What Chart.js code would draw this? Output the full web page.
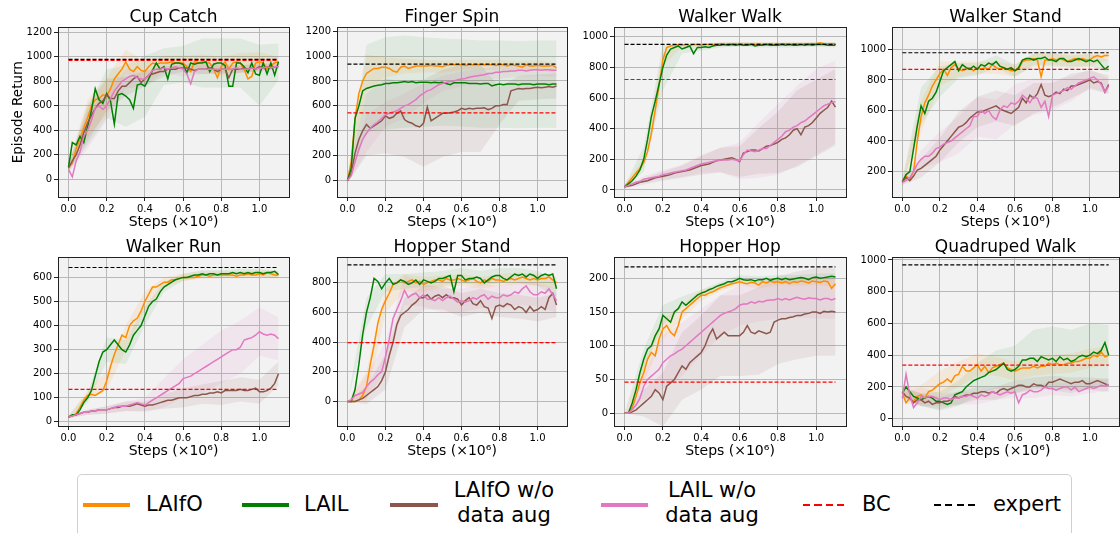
<!DOCTYPE html>
<html>
<head>
<meta charset="utf-8">
<script src="https://cdn.jsdelivr.net/npm/chart.js@4.4.1/dist/chart.umd.min.js"></script>
<style>
  body { margin: 0; width: 1120px; height: 533px; overflow: hidden; background: #fff; position: relative; font-family: 'DejaVu Sans', sans-serif; }
  canvas { position: absolute; }
  #legendBox { position: absolute; left: 77px; top: 474px; width: 995px; height: 90px; border: 1px solid #d0d0d0; border-radius: 5px; box-sizing: border-box; background: #fff; }
  .sw { position: absolute; height: 4px; top: 503px; }
  .dash { position: absolute; height: 2px; top: 504px; }
  .lt { position: absolute; font-size: 21px; line-height: 25px; color: #000; white-space: nowrap; }
  .two { text-align: center; width: 130px; top: 478px; }
</style>
</head>
<body>
<div id="legendBox"></div>
<span class="sw" style="left:83px;width:47px;background:#ff8c00"></span>
<span class="lt" style="left:146px;top:492px">LAIfO</span>
<span class="sw" style="left:242px;width:47px;background:#008000"></span>
<span class="lt" style="left:304px;top:492px">LAIL</span>
<span class="sw" style="left:390px;width:48px;background:#8c564b"></span>
<span class="lt two" style="left:439px">LAIfO w/o<br>data aug</span>
<span class="sw" style="left:601px;width:47px;background:#e377c2"></span>
<span class="lt two" style="left:647px">LAIL w/o<br>data aug</span>
<span class="dash" style="left:803px;width:42px;background:repeating-linear-gradient(90deg,#ff0000 0 7px,transparent 7px 11.5px)"></span>
<span class="lt" style="left:862px;top:492px">BC</span>
<span class="dash" style="left:934px;width:42px;background:repeating-linear-gradient(90deg,#000 0 7px,transparent 7px 11.5px)"></span>
<span class="lt" style="left:993px;top:492px">expert</span>

<script>
const TASKS = ['Cup Catch', 'Finger Spin', 'Walker Walk', 'Walker Stand', 'Walker Run', 'Hopper Stand', 'Hopper Hop', 'Quadruped Walk'];
const BC = [972, 544, 721, 869, 135, 397, 46, 337];
const EXPERT = [980, 935, 950, 978, 641, 921, 217, 969];
const Y_MIN = [-145, -132, -46, 33, -17, -166, -19, -46];
const Y_MAX = [1241, 1230, 1061, 1144, 683, 972, 231, 1016];
const Y_TICKS = [
  [0, 200, 400, 600, 800, 1000, 1200],
  [0, 200, 400, 600, 800, 1000, 1200],
  [0, 200, 400, 600, 800, 1000],
  [200, 400, 600, 800, 1000],
  [0, 100, 200, 300, 400, 500, 600],
  [0, 200, 400, 600, 800],
  [0, 50, 100, 150, 200],
  [0, 200, 400, 600, 800, 1000]
];
const X_TICKS = [0, 0.2, 0.4, 0.6, 0.8, 1.0];

// steps (x10^6): one value every 0.02, bands every 0.1
const STEPS = Array.from({ length: 56 }, (_, i) => Math.round(i * 2) / 100);
const BAND_X = [0, 0.1, 0.2, 0.3, 0.4, 0.5, 0.6, 0.7, 0.8, 0.9, 1.0, 1.1];

const LAIFO = [
  [100, 130, 250, 330, 420, 500, 600, 650, 660, 690, 680, 740, 820, 860,
   900, 960, 900, 880, 920, 890, 880, 920, 950, 940, 950, 950, 950, 960,
   950, 950, 950, 920, 880, 960, 950, 960, 950, 950, 900, 830, 920, 960,
   900, 950, 960, 950, 900, 820, 840, 950, 960, 950, 900, 930, 950, 960],
  [0, 150, 500, 700, 800, 860, 880, 900, 900, 910, 910, 900, 880, 870,
   910, 920, 900, 910, 920, 920, 920, 920, 925, 920, 920, 915, 925, 930,
   930, 930, 930, 925, 930, 930, 930, 930, 930, 930, 930, 925, 930, 930,
   920, 930, 925, 920, 910, 930, 920, 920, 925, 920, 920, 920, 925, 905],
  [20, 50, 80, 110, 140, 180, 250, 370, 520, 680, 850, 930, 940, 945,
   950, 945, 950, 940, 950, 950, 945, 950, 950, 950, 950, 955, 950, 950,
   955, 950, 955, 950, 950, 955, 950, 955, 950, 955, 955, 950, 955, 955,
   955, 950, 955, 955, 950, 955, 955, 955, 955, 960, 955, 955, 955, 955],
  [130, 170, 150, 200, 400, 560, 650, 700, 760, 800, 840, 870, 830, 880,
   900, 870, 860, 870, 880, 860, 880, 870, 880, 870, 900, 880, 870, 880,
   870, 860, 860, 870, 920, 930, 930, 940, 930, 820, 930, 930, 940, 930,
   940, 930, 920, 930, 940, 930, 940, 930, 930, 950, 960, 950, 960, 960],
  [20, 25, 35, 60, 90, 110, 115, 110, 120, 130, 170, 230, 280, 320,
   360, 350, 400, 420, 430, 460, 500, 530, 560, 560, 570, 580, 580, 590,
   590, 595, 600, 600, 600, 600, 605, 610, 610, 605, 610, 610, 610, 610,
   610, 610, 605, 610, 610, 615, 610, 610, 615, 610, 620, 615, 610, 610],
  [0, 0, 0, 10, 40, 100, 250, 380, 530, 620, 680, 730, 790, 800,
   820, 800, 810, 820, 800, 810, 790, 800, 810, 820, 820, 810, 830, 820,
   820, 830, 820, 810, 820, 830, 810, 800, 820, 810, 830, 820, 820, 810,
   820, 830, 820, 830, 840, 830, 820, 830, 820, 830, 830, 840, 820, 800],
  [0, 0, 8, 25, 45, 60, 80, 90, 85, 110, 125, 130, 120, 115,
   130, 150, 155, 160, 165, 170, 175, 175, 178, 180, 183, 186, 188, 190,
   192, 193, 195, 193, 192, 194, 193, 190, 195, 193, 196, 194, 195, 193,
   195, 192, 195, 194, 196, 195, 193, 196, 195, 194, 196, 195, 185, 192],
  [160, 100, 130, 110, 140, 150, 130, 170, 180, 200, 220, 230, 250, 230,
   270, 280, 330, 300, 300, 320, 340, 300, 330, 290, 320, 330, 340, 350,
   320, 310, 300, 310, 320, 320, 320, 330, 320, 330, 330, 350, 340, 350,
   340, 340, 350, 350, 360, 360, 370, 380, 380, 400, 390, 420, 390, 400]
];

const LAIL = [
  [100, 300, 280, 350, 300, 430, 560, 740, 650, 620, 700, 640, 450, 690,
   700, 680, 650, 580, 770, 780, 760, 820, 890, 950, 900, 920, 820, 940,
   950, 950, 940, 870, 950, 940, 950, 950, 960, 880, 940, 950, 950, 930,
   760, 760, 950, 950, 920, 870, 950, 860, 850, 950, 860, 950, 850, 960],
  [0, 100, 500, 600, 720, 740, 750, 760, 765, 770, 780, 780, 785, 785,
   790, 795, 790, 795, 785, 790, 790, 790, 785, 790, 785, 790, 780, 770,
   785, 785, 785, 785, 780, 780, 780, 775, 780, 780, 760, 770, 775, 770,
   775, 775, 775, 770, 775, 775, 775, 770, 775, 775, 775, 770, 775, 775],
  [20, 40, 60, 90, 130, 200, 330, 480, 580, 690, 800, 880, 920, 930,
   940, 920, 930, 940, 890, 930, 930, 935, 930, 940, 945, 945, 950, 945,
   950, 945, 950, 945, 945, 950, 940, 945, 945, 950, 945, 945, 945, 950,
   945, 950, 945, 945, 950, 945, 950, 945, 950, 950, 950, 945, 945, 945],
  [130, 180, 200, 350, 500, 630, 580, 660, 680, 720, 790, 860, 880, 900,
   920, 860, 900, 880, 870, 890, 870, 900, 890, 910, 900, 920, 890, 880,
   870, 880, 860, 880, 930, 940, 940, 930, 940, 940, 950, 930, 930, 920,
   940, 940, 920, 920, 930, 940, 930, 920, 930, 920, 930, 900, 870, 890],
  [20, 30, 30, 50, 80, 100, 130, 190, 250, 290, 300, 320, 340, 320,
   300, 290, 320, 360, 380, 400, 440, 480, 500, 510, 540, 560, 570, 580,
   590, 595, 600, 600, 605, 610, 610, 615, 610, 615, 615, 610, 615, 615,
   615, 620, 615, 620, 615, 620, 615, 620, 620, 615, 620, 620, 625, 612],
  [0, 0, 80, 250, 450, 600, 700, 830, 810, 760, 800, 830, 790, 800,
   820, 810, 790, 800, 820, 790, 820, 810, 800, 810, 830, 830, 840, 850,
   740, 850, 850, 820, 830, 830, 840, 830, 800, 820, 840, 850, 850, 830,
   820, 840, 860, 850, 860, 840, 860, 850, 830, 850, 860, 850, 860, 760],
  [0, 0, 15, 35, 60, 80, 95, 100, 115, 125, 145, 140, 135, 150,
   155, 165, 160, 165, 170, 175, 178, 180, 183, 185, 188, 190, 192, 195,
   195, 197, 200, 198, 197, 198, 196, 198, 198, 200, 197, 199, 200, 198,
   200, 198, 199, 200, 201, 200, 198, 201, 202, 200, 201, 202, 203, 202],
  [160, 200, 170, 140, 130, 120, 130, 140, 130, 110, 110, 100, 90, 100,
   150, 160, 170, 200, 220, 240, 250, 260, 270, 290, 300, 310, 330, 350,
   310, 300, 310, 330, 370, 370, 380, 380, 360, 390, 380, 370, 380, 360,
   390, 370, 380, 360, 370, 390, 400, 390, 400, 420, 410, 430, 480, 400]
];

const LAIFO_NOAUG = [
  [90, 150, 200, 280, 380, 460, 520, 580, 620, 640, 690, 660, 660, 720,
   760, 760, 790, 820, 840, 790, 820, 850, 860, 870, 880, 880, 900, 900,
   900, 910, 910, 910, 900, 890, 900, 900, 900, 910, 900, 880, 900, 900,
   830, 900, 900, 900, 910, 900, 910, 900, 920, 910, 920, 910, 920, 920],
  [0, 60, 220, 330, 400, 450, 420, 440, 460, 480, 520, 500, 510, 540,
   560, 490, 470, 460, 440, 430, 460, 590, 480, 500, 520, 540, 540, 545,
   550, 560, 580, 570, 580, 575, 580, 580, 585, 570, 580, 600, 600, 610,
   610, 720, 730, 740, 735, 740, 740, 745, 750, 745, 750, 755, 750, 760],
  [20, 25, 30, 40, 50, 55, 60, 70, 80, 85, 90, 95, 100, 110,
   115, 120, 125, 130, 140, 150, 160, 165, 170, 180, 190, 195, 200, 205,
   210, 200, 185, 240, 250, 260, 260, 255, 270, 285, 290, 300, 310, 330,
   340, 360, 390, 400, 360, 410, 420, 440, 470, 500, 520, 540, 580, 540],
  [130, 160, 140, 170, 210, 220, 240, 260, 280, 300, 340, 370, 400, 430,
   460, 490, 500, 520, 550, 570, 590, 590, 600, 610, 620, 630, 610, 600,
   590, 580, 600, 620, 680, 650, 700, 680, 710, 770, 700, 690, 700, 720,
   710, 740, 730, 760, 760, 770, 780, 790, 800, 780, 790, 780, 720, 770],
  [20, 25, 30, 35, 40, 40, 45, 45, 50, 50, 50, 55, 60, 60,
   65, 65, 65, 70, 75, 70, 65, 70, 70, 75, 80, 85, 90, 90,
   95, 100, 100, 100, 105, 110, 110, 115, 115, 120, 120, 125, 120, 130,
   130, 130, 130, 135, 130, 130, 135, 140, 125, 125, 130, 140, 160, 200],
  [0, 0, 0, 10, 20, 40, 60, 80, 100, 140, 200, 310, 400, 520,
   580, 600, 620, 650, 670, 700, 700, 720, 690, 710, 720, 700, 720, 700,
   700, 690, 650, 680, 700, 660, 650, 680, 640, 630, 560, 640, 650, 640,
   660, 650, 620, 640, 630, 600, 640, 610, 620, 640, 620, 700, 730, 650],
  [0, 0, 2, 5, 10, 15, 20, 25, 35, 30, 20, 40, 45, 50,
   60, 70, 65, 75, 80, 85, 90, 100, 115, 125, 110, 115, 120, 115,
   115, 115, 115, 120, 130, 120, 118, 122, 120, 118, 120, 135, 138, 140,
   140, 142, 143, 145, 145, 147, 148, 150, 150, 148, 151, 150, 151, 150],
  [170, 140, 130, 100, 120, 120, 100, 110, 90, 100, 100, 110, 110, 120,
   140, 130, 140, 150, 150, 160, 160, 170, 170, 160, 170, 160, 180, 190,
   180, 190, 200, 210, 210, 200, 200, 220, 210, 210, 200, 230, 230, 240,
   250, 240, 230, 220, 230, 230, 240, 220, 220, 230, 240, 230, 220, 210]
];

const LAIL_NOAUG = [
  [80, 20, 150, 220, 350, 400, 480, 580, 600, 570, 600, 660, 720, 760,
   800, 820, 840, 850, 830, 820, 820, 850, 890, 900, 900, 910, 900, 910,
   920, 910, 900, 860, 780, 880, 900, 900, 900, 900, 900, 900, 900, 900,
   900, 900, 910, 900, 900, 900, 910, 900, 910, 910, 920, 910, 920, 920],
  [0, 40, 150, 250, 330, 380, 420, 450, 470, 500, 530, 540, 550, 560,
   580, 600, 610, 630, 650, 680, 700, 720, 730, 750, 770, 780, 790, 795,
   800, 810, 815, 820, 830, 835, 840, 845, 850, 860, 860, 870, 870, 875,
   875, 880, 880, 885, 885, 880, 885, 890, 890, 885, 890, 890, 885, 885],
  [20, 30, 40, 50, 55, 70, 75, 80, 85, 90, 100, 105, 110, 115,
   120, 125, 130, 140, 150, 160, 170, 175, 180, 185, 190, 195, 195, 195,
   200, 195, 190, 230, 260, 255, 250, 260, 270, 270, 290, 310, 330, 350,
   380, 390, 410, 420, 440, 450, 470, 490, 510, 530, 550, 560, 570, 575],
  [130, 140, 160, 200, 250, 280, 300, 300, 320, 350, 360, 380, 390, 400,
   420, 440, 460, 480, 500, 560, 560, 600, 580, 600, 560, 540, 600, 630,
   620, 650, 640, 660, 700, 680, 650, 690, 680, 620, 660, 560, 700, 710,
   720, 730, 750, 740, 760, 780, 790, 800, 810, 820, 800, 770, 720, 760],
  [20, 25, 30, 35, 40, 40, 45, 45, 50, 50, 50, 55, 60, 65,
   65, 65, 70, 75, 80, 75, 70, 80, 90, 100, 110, 120, 130, 140,
   150, 160, 180, 185, 190, 200, 210, 220, 230, 240, 250, 260, 270, 280,
   290, 300, 300, 310, 340, 345, 350, 360, 375, 365, 360, 365, 360, 345],
  [0, 10, 40, 50, 60, 100, 130, 150, 180, 200, 300, 420, 560, 620,
   680, 750, 700, 720, 730, 700, 720, 690, 690, 680, 700, 680, 700, 710,
   690, 670, 680, 670, 680, 700, 690, 710, 720, 690, 710, 700, 700, 720,
   710, 720, 740, 730, 760, 780, 740, 720, 720, 740, 730, 760, 720, 680],
  [0, 0, 5, 12, 22, 40, 50, 55, 60, 65, 75, 80, 85, 88,
   92, 95, 100, 105, 110, 115, 120, 125, 130, 135, 140, 145, 148, 150,
   152, 155, 160, 162, 162, 165, 163, 166, 165, 167, 168, 168, 170, 168,
   170, 168, 170, 172, 170, 169, 171, 170, 170, 168, 170, 170, 168, 170],
  [130, 280, 150, 70, 100, 140, 130, 140, 140, 130, 120, 130, 130, 120,
   130, 130, 140, 140, 150, 140, 130, 150, 140, 150, 170, 160, 150, 160,
   170, 160, 170, 100, 150, 160, 180, 170, 170, 180, 200, 190, 190, 180,
   190, 200, 200, 180, 200, 170, 180, 190, 200, 190, 200, 210, 205, 215]
];

// half width of the shaded band, read at BAND_X
const LAIFO_SPREAD = [
  [30, 150, 150, 100, 80, 60, 60, 60, 80, 80, 80, 40],
  [20, 150, 80, 60, 50, 50, 40, 40, 40, 40, 40, 40],
  [10, 30, 40, 10, 10, 10, 10, 10, 10, 10, 10, 10],
  [20, 100, 80, 50, 40, 40, 40, 40, 40, 40, 40, 30],
  [5, 20, 40, 50, 40, 20, 15, 15, 15, 15, 15, 15],
  [0, 100, 80, 60, 50, 40, 40, 40, 40, 40, 40, 40],
  [0, 15, 15, 10, 8, 5, 5, 5, 5, 5, 5, 5],
  [30, 60, 80, 80, 70, 60, 60, 60, 60, 60, 60, 60]
];
const LAIL_SPREAD = [
  [30, 150, 200, 250, 250, 150, 150, 200, 200, 200, 250, 150],
  [20, 350, 370, 370, 360, 350, 350, 350, 350, 350, 350, 350],
  [10, 80, 150, 30, 20, 15, 15, 15, 15, 15, 15, 15],
  [20, 120, 100, 50, 40, 40, 40, 40, 40, 40, 40, 40],
  [5, 20, 50, 50, 40, 20, 15, 15, 15, 15, 15, 15],
  [0, 100, 60, 50, 50, 50, 50, 50, 50, 50, 50, 60],
  [0, 15, 15, 8, 5, 5, 5, 5, 5, 5, 5, 5],
  [30, 40, 60, 80, 100, 120, 150, 180, 200, 200, 200, 190]
];
const LAIFO_NOAUG_SPREAD = [
  [30, 150, 130, 80, 60, 40, 30, 40, 40, 30, 30, 20],
  [20, 250, 300, 300, 350, 350, 350, 350, 150, 100, 100, 100],
  [10, 20, 30, 40, 60, 80, 100, 150, 200, 250, 250, 250],
  [20, 60, 80, 100, 100, 100, 100, 100, 80, 80, 60, 60],
  [5, 10, 15, 20, 20, 30, 40, 40, 50, 50, 50, 50],
  [0, 60, 120, 100, 80, 80, 80, 80, 80, 80, 80, 80],
  [0, 20, 40, 50, 55, 60, 60, 65, 65, 65, 65, 65],
  [30, 40, 40, 40, 40, 40, 40, 40, 40, 40, 40, 40]
];
const LAIL_NOAUG_SPREAD = [
  [30, 150, 120, 80, 60, 40, 60, 40, 30, 30, 30, 20],
  [20, 150, 100, 100, 80, 60, 60, 50, 50, 50, 50, 50],
  [10, 20, 30, 40, 60, 80, 120, 180, 230, 260, 280, 270],
  [20, 60, 100, 120, 130, 130, 130, 120, 100, 80, 60, 50],
  [5, 10, 15, 20, 30, 60, 80, 100, 110, 110, 100, 90],
  [0, 80, 100, 100, 80, 80, 80, 80, 80, 80, 80, 80],
  [0, 20, 40, 40, 35, 30, 30, 30, 30, 30, 30, 30],
  [30, 60, 40, 40, 40, 40, 40, 40, 40, 40, 40, 40]
];

const METHODS = [
  { values: LAIFO, spread: LAIFO_SPREAD, color: '#ff8c00', band: 'rgba(255,140,0,0.10)' },
  { values: LAIL, spread: LAIL_SPREAD, color: '#008000', band: 'rgba(0,128,0,0.08)' },
  { values: LAIFO_NOAUG, spread: LAIFO_NOAUG_SPREAD, color: '#8c564b', band: 'rgba(140,86,75,0.10)' },
  { values: LAIL_NOAUG, spread: LAIL_NOAUG_SPREAD, color: '#e377c2', band: 'rgba(227,119,194,0.10)' }
];

const PLOT_LEFT = [58, 337, 614, 892];
const PLOT_RIGHT = [289, 567, 846, 1119];
const ROW_TOP = [0, 230];
const ROW_H = [232, 231];
const Y_AXIS_W = 56;

Chart.defaults.font.family = "'DejaVu Sans', sans-serif";
Chart.defaults.color = '#000';

// grey plot background and a black frame, like matplotlib axes
const axesBox = {
  id: 'axesBox',
  beforeDraw(chart) {
    const a = chart.chartArea;
    chart.ctx.save();
    chart.ctx.fillStyle = '#f2f2f2';
    chart.ctx.fillRect(a.left, a.top, a.right - a.left, a.bottom - a.top);
    chart.ctx.restore();
  },
  afterDraw(chart) {
    const a = chart.chartArea;
    chart.ctx.save();
    chart.ctx.strokeStyle = '#222';
    chart.ctx.lineWidth = 1;
    chart.ctx.strokeRect(Math.round(a.left) + 0.5, Math.round(a.top) + 0.5,
      Math.round(a.right - a.left), Math.round(a.bottom - a.top));
    chart.ctx.restore();
  }
};

function bandData(values, spread, sign) {
  return BAND_X.map((x, j) => ({ x: x, y: values[j * 5] + sign * spread[j] }));
}

function lineData(values) {
  return values.map((v, i) => ({ x: STEPS[i], y: v }));
}

function renderTask(k) {
  const col = k % 4, row = Math.floor(k / 4);
  const canvas = document.createElement('canvas');
  const w = PLOT_RIGHT[col] - PLOT_LEFT[col] + Y_AXIS_W + 3;
  const h = ROW_H[row];
  canvas.width = w;
  canvas.height = h;
  canvas.style.width = w + 'px';
  canvas.style.height = h + 'px';
  canvas.style.left = (PLOT_LEFT[col] - Y_AXIS_W) + 'px';
  canvas.style.top = ROW_TOP[row] + 'px';
  document.body.appendChild(canvas);

  const datasets = [];
  METHODS.forEach(m => {
    const base = { borderWidth: 0, pointRadius: 0, backgroundColor: m.band, order: 20 };
    datasets.push(Object.assign({ data: bandData(m.values[k], m.spread[k], 1), fill: '+1' }, base));
    datasets.push(Object.assign({ data: bandData(m.values[k], m.spread[k], -1), fill: false }, base));
  });
  METHODS.forEach((m, n) => {
    datasets.push({
      data: lineData(m.values[k]), borderColor: m.color, borderWidth: 1.5,
      pointRadius: 0, fill: false, order: 6 - n
    });
  });
  datasets.push({
    data: [{ x: 0, y: BC[k] }, { x: 1.1, y: BC[k] }], borderColor: '#ff0000',
    borderWidth: 1.2, borderDash: [4, 2], pointRadius: 0, fill: false, order: 1
  });
  datasets.push({
    data: [{ x: 0, y: EXPERT[k] }, { x: 1.1, y: EXPERT[k] }], borderColor: '#000',
    borderWidth: 1.2, borderDash: [4, 2], pointRadius: 0, fill: false, order: 0
  });

  const grid = { color: '#b8b8b8', lineWidth: 1, tickColor: '#222', tickLength: 4 };

  new Chart(canvas, {
    type: 'line',
    data: { datasets: datasets },
    plugins: [axesBox],
    options: {
      responsive: false,
      animation: false,
      layout: { padding: { left: 0, right: 3, top: 0, bottom: 0 } },
      plugins: {
        legend: { display: false },
        tooltip: { enabled: false },
        title: {
          display: true, text: TASKS[k], color: '#000', fullSize: false,
          font: { size: 17, weight: 'normal' }, padding: { top: 7, bottom: 0 }
        }
      },
      scales: {
        x: {
          type: 'linear', min: -0.055, max: 1.155,
          afterBuildTicks: s => { s.ticks = X_TICKS.map(v => ({ value: v })); },
          afterFit: s => { s.height = 35; },
          ticks: { font: { size: 10 }, color: '#000', padding: 2, maxRotation: 0, callback: v => v.toFixed(1) },
          grid: grid,
          border: { display: false },
          title: { display: true, text: 'Steps (×10⁶)', color: '#000', font: { size: 14 }, padding: { top: 0, bottom: 1 } }
        },
        y: {
          type: 'linear', min: Y_MIN[k], max: Y_MAX[k],
          afterBuildTicks: s => { s.ticks = Y_TICKS[k].map(v => ({ value: v })); },
          afterFit: s => { s.width = Y_AXIS_W; },
          ticks: { font: { size: 10 }, color: '#000', padding: 2, callback: v => String(v) },
          grid: grid,
          border: { display: false },
          title: {
            display: k === 0, text: 'Episode Return', color: '#000',
            font: { size: 13.5 }, padding: { top: 8, bottom: 0 }
          }
        }
      }
    }
  });
}

TASKS.forEach((t, k) => renderTask(k));
</script>
</body>
</html>
